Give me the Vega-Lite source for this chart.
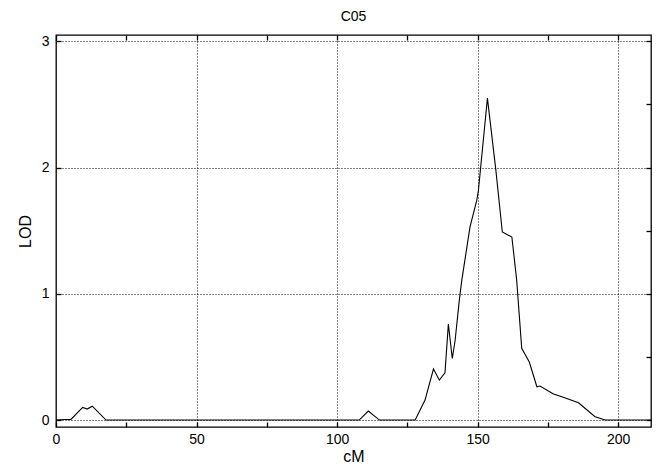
{
  "$schema": "https://vega.github.io/schema/vega-lite/v6.json",
  "autosize": "none",
  "width": 595,
  "height": 392,
  "padding": {"left": 56, "top": 35, "right": 8, "bottom": 39},
  "background": "white",
  "config": {
    "font": "Liberation Sans",
    "view": {"stroke": "black", "strokeWidth": 1.3},
    "axis": {"domain": false, "labelColor": "black", "titleColor": "black", "labelFont": "Liberation Sans", "titleFont": "Liberation Sans", "labelFontSize": 14, "titleFontSize": 16, "titleFontWeight": "normal", "tickColor": "black", "tickWidth": 1.3, "labelFlush": false}
  },
  "title": {"text": "C05", "fontSize": 14, "fontWeight": "normal", "font": "Liberation Sans", "color": "black", "offset": 10, "anchor": "middle", "frame": "group"},
  "data": {"values": [
    {"cM": 0, "LOD": 0.0},
    {"cM": 3, "LOD": 0.005},
    {"cM": 5.3, "LOD": 0.005},
    {"cM": 9.5, "LOD": 0.10},
    {"cM": 11.1, "LOD": 0.087},
    {"cM": 12.9, "LOD": 0.11},
    {"cM": 17.8, "LOD": 0.0},
    {"cM": 107.9, "LOD": 0.0},
    {"cM": 111.1, "LOD": 0.071},
    {"cM": 115.1, "LOD": 0.0},
    {"cM": 127.8, "LOD": 0.0},
    {"cM": 131.3, "LOD": 0.158},
    {"cM": 134.3, "LOD": 0.404},
    {"cM": 136.4, "LOD": 0.317},
    {"cM": 138.4, "LOD": 0.375},
    {"cM": 139.6, "LOD": 0.76},
    {"cM": 141.0, "LOD": 0.488},
    {"cM": 142.0, "LOD": 0.63},
    {"cM": 143.5, "LOD": 0.95},
    {"cM": 144.4, "LOD": 1.11},
    {"cM": 147.3, "LOD": 1.53},
    {"cM": 149.7, "LOD": 1.74},
    {"cM": 150.3, "LOD": 1.82},
    {"cM": 153.5, "LOD": 2.55},
    {"cM": 156.5, "LOD": 1.98},
    {"cM": 158.8, "LOD": 1.49},
    {"cM": 162.2, "LOD": 1.45},
    {"cM": 163.9, "LOD": 1.11},
    {"cM": 165.7, "LOD": 0.568},
    {"cM": 168.4, "LOD": 0.46},
    {"cM": 171.1, "LOD": 0.264},
    {"cM": 172.2, "LOD": 0.27},
    {"cM": 177.0, "LOD": 0.206},
    {"cM": 180.0, "LOD": 0.185},
    {"cM": 185.9, "LOD": 0.137},
    {"cM": 191.8, "LOD": 0.026},
    {"cM": 195.4, "LOD": 0.0},
    {"cM": 211.7, "LOD": 0.0}
  ]},
  "layer": [
    {
      "mark": {"type": "line", "color": "black", "strokeWidth": 1.1},
      "encoding": {
        "x": {"field": "cM", "type": "quantitative", "scale": {"domain": [0, 211.7], "nice": false, "zero": false},
          "axis": {"orient": "bottom", "title": "cM", "titlePadding": 2, "values": [0, 25, 50, 75, 100, 125, 150, 175, 200], "tickSize": -5, "labelPadding": 10, "format": "d",
            "labelExpr": "datum.value % 50 === 0 ? datum.label : ''",
            "grid": true, "gridColor": "black", "gridDash": [1, 2], "gridWidth": 1,
            "gridOpacity": {"condition": {"test": "datum.value % 50 === 0 && datum.value > 0", "value": 1}, "value": 0}}},
        "y": {"field": "LOD", "type": "quantitative", "scale": {"domain": [-0.055, 3.05], "nice": false, "zero": false},
          "axis": {"orient": "left", "title": "LOD", "titlePadding": 8, "values": [0, 0.5, 1, 1.5, 2, 2.5, 3], "tickSize": -5, "labelPadding": 12, "format": "d",
            "labelExpr": "datum.value % 1 === 0 ? datum.label : ''",
            "grid": true, "gridColor": "black", "gridDash": [1, 2], "gridWidth": 1,
            "gridOpacity": {"condition": {"test": "datum.value % 1 === 0", "value": 1}, "value": 0}}}
      }
    },
    {
      "mark": {"type": "line", "opacity": 0},
      "encoding": {
        "x": {"field": "cM", "type": "quantitative", "axis": {"orient": "top", "title": null, "labels": false, "grid": false, "values": [0, 25, 50, 75, 100, 125, 150, 175, 200], "tickSize": -5}},
        "y": {"field": "LOD", "type": "quantitative", "axis": {"orient": "right", "title": null, "labels": false, "grid": false, "values": [0, 0.5, 1, 1.5, 2, 2.5, 3], "tickSize": -5}}
      }
    }
  ],
  "resolve": {"axis": {"x": "independent", "y": "independent"}}
}
